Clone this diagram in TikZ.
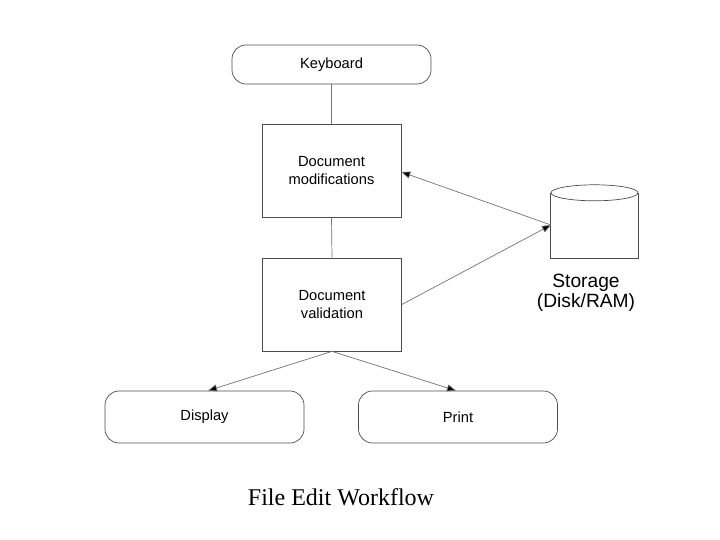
\documentclass[tikz,border=0pt]{standalone}
\usepackage{fontspec}
\setmainfont{Liberation Sans}
\newfontfamily\capfont{Liberation Serif}
\usetikzlibrary{arrows.meta}
\begin{document}
\begin{tikzpicture}[x=1pt,y=-1pt,
  box/.style={draw=black!70,line width=0.7pt,minimum width=139pt,minimum height=93pt,align=center,font=\fontsize{14.7}{18}\selectfont},
  rbox/.style={draw=black!70,line width=0.7pt,rounded corners=14pt,minimum width=199pt,align=center,font=\fontsize{14.7}{18}\selectfont},
  link/.style={draw=black!55,line width=0.7pt},
  arr/.style={link,-{Triangle[length=9pt,width=7pt,fill=black]}}]
\useasboundingbox (0,0) rectangle (720,540);
\node[rbox,minimum height=39pt] (kb) at (331.5,64.5) {Keyboard};
\node[box] (mod) at (331.5,170.5) {Document\\modifications};
\node[box] (val) at (332,304.5) {Document\\validation};
\node[rbox,minimum height=52pt] (disp) at (204.5,417) {Display};
\node[rbox,minimum height=52pt] (prn) at (458,417) {Print};
\node[inner sep=0pt,minimum width=87pt,minimum height=73pt] (st) at (594.5,221.5) {};
\draw[draw=black!70,line width=0.7pt] (st.north west) ++(0,8) -- (st.south west) -- (st.south east) -- ++(0,-65);
\draw[draw=black!70,line width=0.7pt] (st.north) ++(0,8) ellipse [x radius=43.5pt,y radius=8pt];
\node[font=\fontsize{19.2}{20}\selectfont,align=center] (stl) at (586,293) {Storage\\(Disk/RAM)};
\node[font=\capfont\fontsize{24}{28}\selectfont] (cap) at (341,497) {File Edit Workflow};
\coordinate (stp) at (551,225);
\draw[link] (kb.south) -- (mod.north);
\draw[link] (mod.south) -- (val.north);
\draw[arr] (stp) -- (mod.east |- 0,172);
\draw[arr] (val.east) -- (stp);
\draw[arr] (val.south) -- (disp.north -| 208,0);
\draw[arr] (val.south) -- (prn.north -| 456,0);
\end{tikzpicture}
\end{document}
